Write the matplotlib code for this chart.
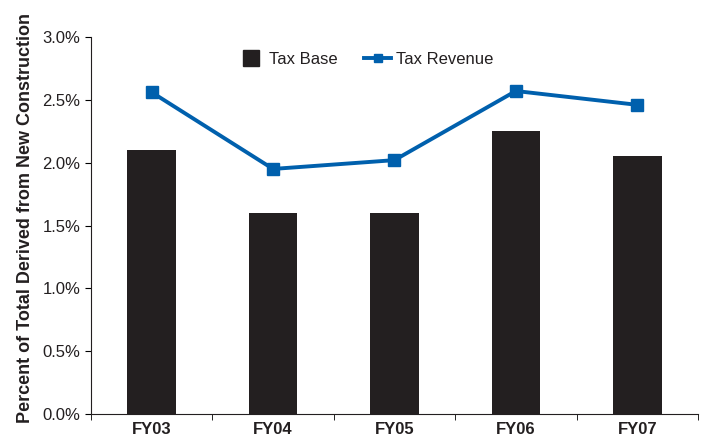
import numpy as np
import matplotlib
matplotlib.use("Agg")
from matplotlib import pyplot as plt
from matplotlib.lines import Line2D
from matplotlib.ticker import FuncFormatter, FixedLocator

plt.rcParams['font.family'] = ['Liberation Sans', 'DejaVu Sans']

# Data
years = ["FY03", "FY04", "FY05", "FY06", "FY07"]
tax_base = [2.1, 1.6, 1.6, 2.25, 2.05]
tax_revenue = [2.56, 1.95, 2.02, 2.57, 2.46]

bar_color = "#231f20"
line_color = "#0060ad"

fig = plt.figure(figsize=(7.05, 4.4), dpi=100)
ax = fig.add_axes([0.129, 0.059, 0.861, 0.857])

x = np.arange(len(years))
ax.bar(x, tax_base, width=0.4, color=bar_color, zorder=2)
line, = ax.plot(x, tax_revenue, color=line_color, linewidth=2.8, marker="s",
                markersize=8, zorder=3)

ax.set_xlim(-0.5, len(years) - 0.5)
ax.set_ylim(0, 3.0)
ax.set_yticks(np.arange(0, 3.01, 0.5))
ax.yaxis.set_major_formatter(FuncFormatter(lambda v, p: "%.1f%%" % v))

# category labels centred, tick marks between categories
ax.set_xticks(x)
ax.set_xticklabels(years, fontweight="bold", fontsize=12, color="#231f20")
ax.tick_params(axis="x", which="major", length=0, pad=6)
ax.xaxis.set_minor_locator(FixedLocator(np.arange(-0.5, len(years), 1.0)))
ax.tick_params(axis="x", which="minor", length=4, direction="out")
ax.tick_params(axis="y", labelsize=12, length=4, labelcolor="#231f20")

for s in ["top", "right"]:
    ax.spines[s].set_visible(False)
ax.spines["left"].set_color("#231f20")
ax.spines["bottom"].set_color("#231f20")

ax.set_ylabel("Percent of Total Derived from New Construction",
              fontweight="bold", fontsize=13, color="#231f20")
ax.yaxis.set_label_coords(-0.093, 0.52)

# square swatch for the bars, like the original
base_proxy = Line2D([], [], linestyle="none", marker="s", markersize=12,
                    color=bar_color)
leg = ax.legend([base_proxy, line], ["Tax Base", "Tax Revenue"],
                loc="upper center", bbox_to_anchor=(0.452, 1.0), ncol=2,
                frameon=False, fontsize=12, handlelength=1.6, markerscale=0.8,
                columnspacing=1.6, handletextpad=0.3)
leg.legend_handles[0].set_markersize(12)
for t in leg.get_texts():
    t.set_color("#231f20")

fig.savefig("out.png", dpi=100)
